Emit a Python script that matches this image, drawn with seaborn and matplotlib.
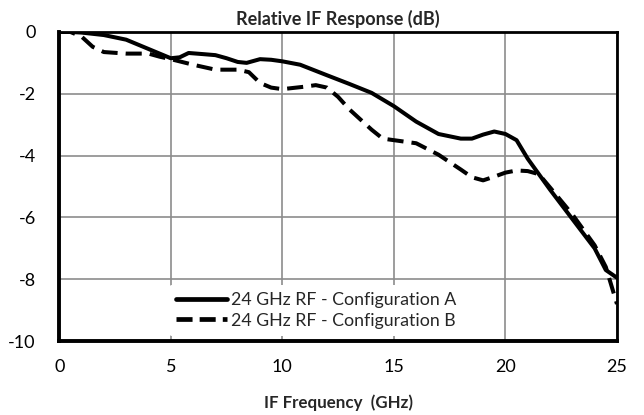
import numpy as np
import pandas as pd
import matplotlib
matplotlib.use("Agg")
import matplotlib.pyplot as plt
import seaborn as sns

# ==========================================================
# DATA
# ==========================================================

freq_a = [0, 0.5, 1, 2, 3, 4, 5, 5.4, 5.8, 6.5, 7, 7.5, 8, 8.4, 9, 9.5,
          10, 10.8, 12, 13, 14, 15, 16, 17, 18, 18.5, 19, 19.5, 20,
          20.5, 21, 22, 23, 24, 24.5, 25]
resp_a = [0, 0, -0.02, -0.1, -0.25, -0.55, -0.85, -0.82, -0.68, -0.72,
          -0.75, -0.85, -0.97, -1.0, -0.88, -0.9, -0.95, -1.06, -1.4,
          -1.68, -1.97, -2.4, -2.9, -3.3, -3.45, -3.45, -3.32, -3.22,
          -3.3, -3.5, -4.1, -5.1, -6.05, -7.0, -7.7, -7.95]

freq_b = [0, 0.5, 1, 1.5, 2, 3, 4, 4.5, 5, 6, 7, 8, 8.5, 9, 9.5, 10,
          11, 11.5, 12, 12.5, 13, 14, 14.5, 15, 16, 17, 18, 18.5, 19,
          19.5, 20, 20.5, 21, 21.5, 22, 23, 24, 24.5, 25]
resp_b = [0, 0, -0.15, -0.48, -0.65, -0.7, -0.7, -0.8, -0.88, -1.06,
          -1.22, -1.22, -1.3, -1.65, -1.8, -1.85, -1.77, -1.72, -1.8,
          -2.1, -2.5, -3.16, -3.45, -3.5, -3.6, -3.97, -4.45, -4.7,
          -4.8, -4.68, -4.55, -4.48, -4.5, -4.6, -5.03, -5.9, -6.9,
          -7.6, -8.8]

label_a = "24 GHz RF - Configuration A"
label_b = "24 GHz RF - Configuration B"

x_ticks = [0, 5, 10, 15, 20, 25]
y_ticks = [0, -2, -4, -6, -8, -10]

df = pd.concat([
    pd.DataFrame({"freq": freq_a, "resp": resp_a, "config": label_a}),
    pd.DataFrame({"freq": freq_b, "resp": resp_b, "config": label_b}),
])

# ==========================================================
# PLOT
# ==========================================================

sns.set_style("white")
plt.rcParams["font.family"] = ["Lato", "DejaVu Sans"]
plt.rcParams["axes.unicode_minus"] = False

fig = plt.figure(figsize=(6.44, 4.15), dpi=100)
ax = fig.add_axes([0.092, 0.178, 0.866, 0.745])

sns.lineplot(data=df, x="freq", y="resp", hue="config", style="config",
             palette=["black", "black"], dashes=[(None, None), (4, 2)],
             linewidth=2.9, sort=False, ax=ax)

ax.set_xlim(0, 25)
ax.set_ylim(-10, 0)
ax.set_xticks(x_ticks)
ax.set_yticks(y_ticks)
ax.grid(True, color="#8c8c8c", linewidth=1.2)
ax.set_axisbelow(True)
ax.tick_params(axis="both", length=0, labelsize=13, colors="black")
ax.tick_params(axis="x", pad=13)
ax.tick_params(axis="y", pad=17)

for side in ["left", "bottom", "top", "right"]:
    ax.spines[side].set_visible(True)
    ax.spines[side].set_color("black")
ax.spines["left"].set_linewidth(2.8)
ax.spines["bottom"].set_linewidth(2.8)
ax.spines["top"].set_linewidth(2.0)
ax.spines["right"].set_linewidth(2.0)

ax.set_title("Relative IF Response (dB)", fontsize=13, fontweight="bold", pad=5)
ax.set_xlabel("IF Frequency  (GHz)", fontsize=12.2, fontweight="bold", labelpad=14)
ax.set_ylabel("")

leg = ax.legend(loc="lower center", bbox_to_anchor=(0.46, 0.0), frameon=True,
                fontsize=12.8, handlelength=2.9, handletextpad=0.2,
                borderaxespad=0.3, labelspacing=0.25)
leg.get_frame().set_facecolor("white")
leg.get_frame().set_edgecolor("none")
leg.get_frame().set_alpha(1.0)
for line in leg.get_lines():
    line.set_linewidth(3.4)
leg.get_lines()[1].set_dashes((3.4, 1.5))

fig.savefig("out.png", dpi=100)
